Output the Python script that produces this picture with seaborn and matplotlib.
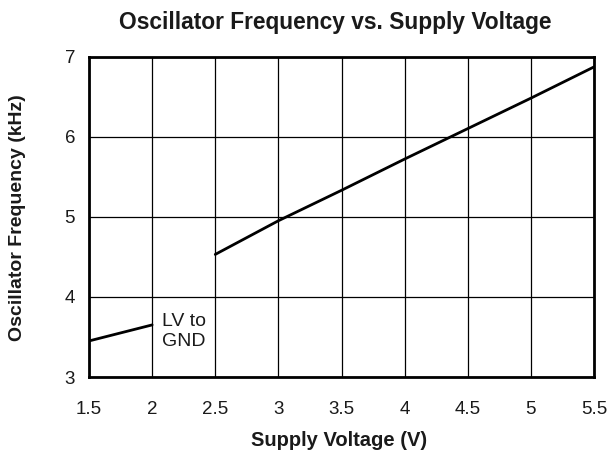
import matplotlib
matplotlib.use("Agg")
import matplotlib.pyplot as plt
import seaborn as sns
import pandas as pd

# Data
lv_voltage = [1.5, 2.0]
lv_freq = [3.45, 3.65]
main_voltage = [2.5, 3.0, 3.5, 4.0, 4.5, 5.0, 5.5]
main_freq = [4.53, 4.95, 5.33, 5.72, 6.10, 6.48, 6.87]
x_ticks = [1.5, 2, 2.5, 3, 3.5, 4, 4.5, 5, 5.5]
x_tick_labels = ["1.5", "2", "2.5", "3", "3.5", "4", "4.5", "5", "5.5"]
y_ticks = [3, 4, 5, 6, 7]

sns.set_style("white")
plt.rcParams['font.family'] = ['Liberation Sans', 'DejaVu Sans']

fig = plt.figure(figsize=(6.07, 4.53), dpi=100)
ax = fig.add_axes([89/607, 1 - 377/453, (594-89)/607, (377-56.5)/453])

df_lv = pd.DataFrame({"V": lv_voltage, "F": lv_freq})
df_main = pd.DataFrame({"V": main_voltage, "F": main_freq})
sns.lineplot(data=df_lv, x="V", y="F", ax=ax, color="black", linewidth=2.0)
sns.lineplot(data=df_main, x="V", y="F", ax=ax, color="black", linewidth=2.0)

ax.set_xlim(1.5, 5.5)
ax.set_ylim(3, 7)
ax.set_xticks(x_ticks)
ax.set_xticklabels(x_tick_labels)
ax.set_yticks(y_ticks)
ax.grid(True, color="black", linewidth=0.9)
ax.set_axisbelow(True)
for s in ax.spines.values():
    s.set_color("black")
    s.set_linewidth(2.0)
ax.tick_params(axis="x", length=0, labelsize=13.5, pad=17, colors="#1a1a1a")
ax.tick_params(axis="y", length=0, labelsize=13.5, pad=10, colors="#1a1a1a")

ax.set_xlabel("")
ax.set_ylabel("")
fig.text(339/607, 1 - 441/453, "Supply Voltage (V)", fontsize=14.5, fontweight="bold",
         ha="center", va="center", color="#1a1a1a")
fig.text(18/607, 1 - 218/453, "Oscillator Frequency (kHz)", fontsize=14, fontweight="bold",
         ha="center", va="center", rotation=90, color="#1a1a1a")
fig.text(335/607, 1 - 29/453, "Oscillator Frequency vs. Supply Voltage", fontsize=16.4,
         fontweight="bold", ha="center", va="baseline", color="#1a1a1a")

ax.text(2.08, 3.57, "LV to\nGND", fontsize=14, ha="left", va="center", linespacing=1.2,
        color="#1a1a1a")

fig.savefig("out.png", dpi=100)
